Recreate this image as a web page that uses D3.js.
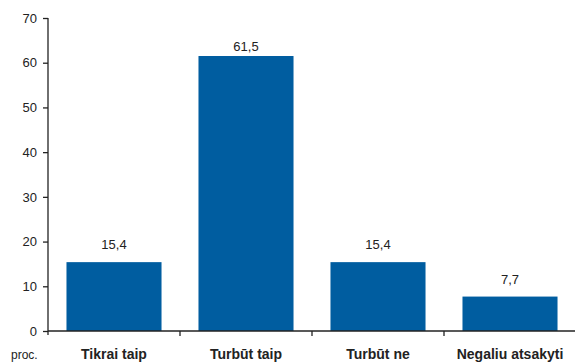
<!DOCTYPE html>
<html>
<head>
<meta charset="utf-8">
<script src="https://cdn.jsdelivr.net/npm/d3@7"></script>
<style>
  html, body { margin: 0; padding: 0; background: #fff; }
  svg { display: block; font-family: "Liberation Sans", Arial, sans-serif; }
</style>
</head>
<body>
<svg id="chart" width="575" height="363"></svg>
<script>
// Survey answers (percent)
const categories = ["Tikrai taip", "Turbūt taip", "Turbūt ne", "Negaliu atsakyti"];
const values = [15.4, 61.5, 15.4, 7.7];
const yTicks = [0, 10, 20, 30, 40, 50, 60, 70];
const unitLabel = "proc.";

const svg = d3.select("#chart");
const plotLeft = 48, plotRight = 576, plotTop = 18, plotBottom = 331;
const barColor = "#005da0";

const x = d3.scaleBand()
  .domain(categories)
  .range([plotLeft, plotRight])
  .paddingInner(0.28)
  .paddingOuter(0.14);

const y = d3.scaleLinear().domain([0, 70]).range([plotBottom, plotTop]);

// Bars
svg.append("g").selectAll("rect")
  .data(values)
  .join("rect")
  .attr("x", (d, i) => x(categories[i]))
  .attr("y", d => y(d))
  .attr("width", x.bandwidth())
  .attr("height", d => y(0) - y(d))
  .attr("fill", barColor);

// Value labels above bars, kept inside the plot top
const fmt = d => d3.format(".1f")(d).replace(".", ",");
svg.append("g").selectAll("text")
  .data(values)
  .join("text")
  .attr("x", (d, i) => x(categories[i]) + x.bandwidth() / 2)
  .attr("y", d => Math.max(y(d) - 13, y(70) + 33))
  .attr("text-anchor", "middle")
  .attr("font-size", 13)
  .attr("fill", "#222")
  .text(fmt);

// Y axis
const yAxis = d3.axisLeft(y).tickValues(yTicks).tickSize(5).tickPadding(6).tickSizeOuter(0);
const gy = svg.append("g").attr("transform", `translate(${plotLeft},0)`).call(yAxis);
gy.select(".domain").attr("d", `M0,${plotTop}V${plotBottom + 4}`).attr("stroke", "#222").attr("stroke-width", 1.3);
gy.selectAll(".tick line").attr("stroke", "#222").attr("stroke-width", 1.3);
gy.selectAll(".tick text").attr("font-size", 13).attr("fill", "#222")
  .attr("font-family", "Liberation Sans, Arial, sans-serif");

// X axis baseline with boundary ticks between categories
const step = x.step();
const boundaries = d3.range(categories.length + 1).map(i => plotLeft + i * step);
svg.append("line")
  .attr("x1", plotLeft).attr("x2", plotRight)
  .attr("y1", plotBottom).attr("y2", plotBottom)
  .attr("stroke", "#222").attr("stroke-width", 1.3);
svg.append("g").selectAll("line")
  .data(boundaries.slice(1))
  .join("line")
  .attr("x1", d => d).attr("x2", d => d)
  .attr("y1", plotBottom).attr("y2", plotBottom + 5)
  .attr("stroke", "#222").attr("stroke-width", 1.3);

// Category labels
svg.append("g").selectAll("text")
  .data(categories)
  .join("text")
  .attr("x", d => x(d) + x.bandwidth() / 2)
  .attr("y", 359)
  .attr("text-anchor", "middle")
  .attr("font-size", 14)
  .attr("font-weight", "bold")
  .attr("fill", "#222")
  .text(d => d);

// Unit label
svg.append("text")
  .attr("x", 11)
  .attr("y", 359)
  .attr("font-size", 12)
  .attr("fill", "#222")
  .text(unitLabel);
</script>
</body>
</html>
